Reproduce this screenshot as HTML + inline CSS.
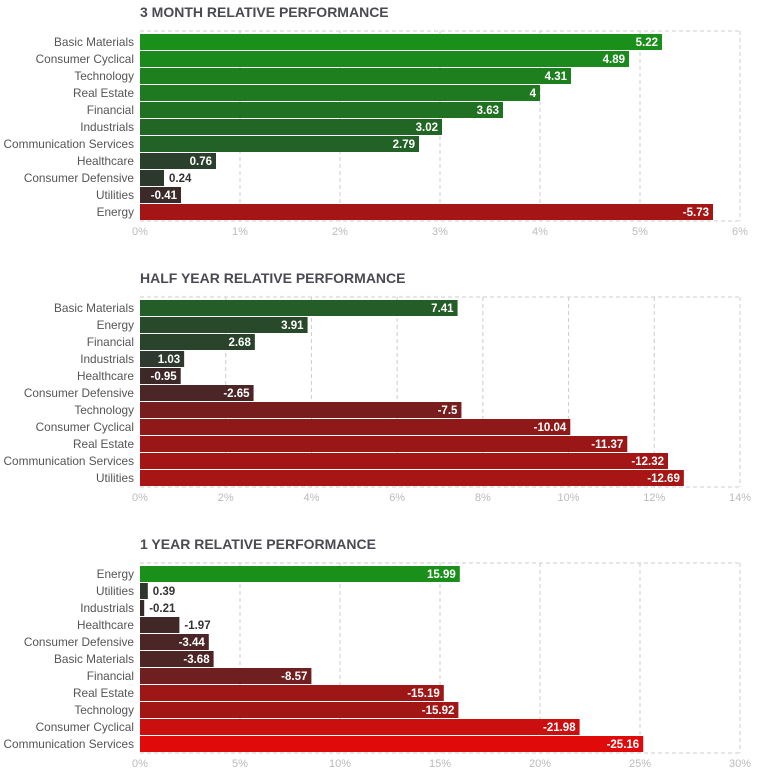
<!DOCTYPE html>
<html><head><meta charset="utf-8"><style>
body{margin:0;background:#fff;width:757px;height:775px;overflow:hidden;font-family:"Liberation Sans",sans-serif}
</style></head><body>
<svg id="svg" width="757" height="775"></svg>
<script>
const cats1=["Basic Materials","Consumer Cyclical","Technology","Real Estate","Financial","Industrials","Communication Services","Healthcare","Consumer Defensive","Utilities","Energy"];
const vals1=[5.22,4.89,4.31,4,3.63,3.02,2.79,0.76,0.24,-0.41,-5.73];
const ticks1=[0,1,2,3,4,5,6];
const cats2=["Basic Materials","Energy","Financial","Industrials","Healthcare","Consumer Defensive","Technology","Consumer Cyclical","Real Estate","Communication Services","Utilities"];
const vals2=[7.41,3.91,2.68,1.03,-0.95,-2.65,-7.5,-10.04,-11.37,-12.32,-12.69];
const ticks2=[0,2,4,6,8,10,12,14];
const cats3=["Energy","Utilities","Industrials","Healthcare","Consumer Defensive","Basic Materials","Financial","Real Estate","Technology","Consumer Cyclical","Communication Services"];
const vals3=[15.99,0.39,-0.21,-1.97,-3.44,-3.68,-8.57,-15.19,-15.92,-21.98,-25.16];
const ticks3=[0,5,10,15,20,25,30];
const titles=["3 MONTH RELATIVE PERFORMANCE","HALF YEAR RELATIVE PERFORMANCE","1 YEAR RELATIVE PERFORMANCE"];

const NS="http://www.w3.org/2000/svg";
const svg=document.getElementById('svg');
function mk(t,a,p){const e=document.createElementNS(NS,t);for(const k in a)e.setAttribute(k,a[k]);(p||svg).appendChild(e);return e;}
function lerp(a,b,t){return a.map((v,i)=>Math.round(v+(b[i]-v)*t));}
function ramp(stops,t){t=Math.max(0,Math.min(1,t));const n=stops.length-1;const i=Math.min(n-1,Math.floor(t*n));const c=lerp(stops[i],stops[i+1],t*n-i);return `rgb(${c})`;}
const posStops=[[46,52,46],[36,94,39],[26,144,26]];
const negStops=[[52,42,42],[138,26,26],[224,10,10]];
function color(v,ps,ns){return v>=0?ramp(posStops,v/ps):ramp(negStops,-v/ns);}

function chart(idx,cats,vals,ticks,T,ps,ns){
  const g=mk('g',{});
  
  
  const L=140,R=740,max=ticks[ticks.length-1];
  const x=v=>L+(R-L)*v/max;
  const stride=17,bh=16,B=T+190;
  const tt=mk('text',{x:140,y:T-14,'font-size':14,'font-weight':'bold',fill:'#4a4a52'},g);
  tt.textContent=titles[idx];
  
  
  mk('line',{x1:L,y1:T,x2:R,y2:T,stroke:'#ccc','stroke-dasharray':'4,3'},g);
  mk('line',{x1:L,y1:B,x2:R,y2:B,stroke:'#ccc','stroke-dasharray':'4,3'},g);
  ticks.forEach(t=>{
    if(t>0){const gl=mk('line',{x1:x(t),y1:T,x2:x(t),y2:B,stroke:'#ccc','stroke-dasharray':'4,3'},g);
      }
    const tl=mk('text',{x:x(t),y:B+14,'font-size':11,fill:'#bbb','text-anchor':'middle'},g);
    tl.textContent=t+'%';
    
    
  });
  cats.forEach((c,i)=>{
    const v=vals[i],y=T+3+i*stride,w=x(Math.abs(v))-L;
    const r=mk('rect',{x:L,y:y,width:w,height:bh,fill:color(v,ps,ns)},g);
    
    
    const cl=mk('text',{x:134,y:y+12,'font-size':11.8,fill:'#555','text-anchor':'end'},g);
    cl.textContent=c;
    
    
    const inside=w>=40;
    const vl=mk('text',{x:inside?L+w-4:L+w+5,y:y+12,'font-size':11.5,'font-weight':'bold',fill:inside?'#fff':'#333','text-anchor':inside?'end':'start'},g);
    vl.textContent=String(v);
    
    
  });
}
chart(0,cats1,vals1,ticks1,31,5.2,8.8);
chart(1,cats2,vals2,ticks2,297,15,19);
chart(2,cats3,vals3,ticks3,563,16,25);
</script>
</body></html>
